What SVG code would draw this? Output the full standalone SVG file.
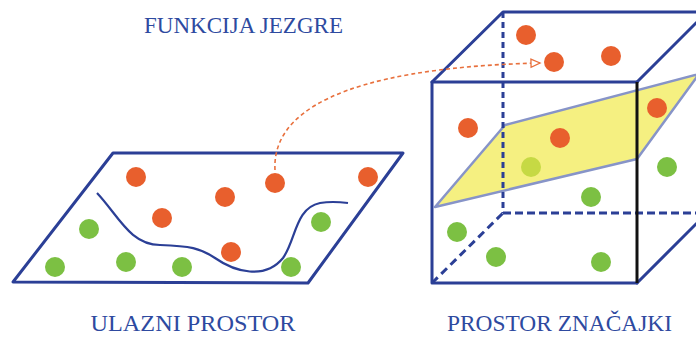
<svg xmlns="http://www.w3.org/2000/svg" width="696" height="337" viewBox="0 0 696 337">
<style>
.edge{fill:none;stroke:#2b3f96;stroke-width:3;stroke-linejoin:round;stroke-linecap:round}
.dash{fill:none;stroke:#2b3f96;stroke-width:3}
.o{fill:#e85f2d}
.g{fill:#7cc043}
.lbl{font-family:"Liberation Serif",serif;fill:#2e4aa0}
</style>
<defs>
<marker id="arr" markerWidth="12" markerHeight="12" refX="10" refY="5" orient="auto" markerUnits="userSpaceOnUse">
<path d="M1,1 L10,5 L1,9 z" fill="#fff" stroke="#e8703d" stroke-width="1.3"/>
</marker>
</defs>
<rect width="696" height="337" fill="#fff"/>

<g id="input-space">
<polygon class="edge" points="113,153 403,153 308,283 13,282"/>
<path d="M97,193 C118,215 130,245 160,245 C190,246 200,248 215,258 C235,272 265,280 283,258 C296,240 295,208 320,203 C332,201 340,202 348,203" fill="none" stroke="#2b3f96" stroke-width="2.2"/>
<circle class="o" cx="136" cy="177" r="10"/>
<circle class="o" cx="225" cy="197" r="10"/>
<circle class="o" cx="275" cy="183" r="10"/>
<circle class="o" cx="368" cy="177" r="10"/>
<circle class="o" cx="162" cy="218" r="10"/>
<circle class="o" cx="231" cy="252" r="10"/>
<circle class="g" cx="89" cy="229" r="10"/>
<circle class="g" cx="55" cy="267" r="10"/>
<circle class="g" cx="126" cy="262" r="10"/>
<circle class="g" cx="182" cy="267" r="10"/>
<circle class="g" cx="291" cy="267" r="10"/>
<circle class="g" cx="321" cy="222" r="10"/>
</g>

<g id="feature-space">
<polygon points="435,207 505,125 699,74 637,159" fill="#f5f081" stroke="#8794c8" stroke-width="2.5" stroke-linejoin="round"/>
<line class="dash" x1="503" y1="12" x2="503" y2="213" stroke-dasharray="6,4"/>
<line class="dash" x1="503" y1="213" x2="696" y2="213" stroke-dasharray="8,4"/>
<line class="dash" x1="432" y1="283" x2="503" y2="213" stroke-dasharray="8,5"/>
<circle class="o" cx="526" cy="35" r="10"/>
<circle class="o" cx="554" cy="62" r="10"/>
<circle class="o" cx="611" cy="56" r="10"/>
<circle class="o" cx="468" cy="128" r="10"/>
<circle class="o" cx="560" cy="138" r="10"/>
<circle class="o" cx="657" cy="108" r="10"/>
<circle cx="531" cy="167" r="10" fill="#c6d944"/>
<circle class="g" cx="667" cy="167" r="10"/>
<circle class="g" cx="591" cy="197" r="10"/>
<circle class="g" cx="457" cy="232" r="10"/>
<circle class="g" cx="496" cy="257" r="10"/>
<circle class="g" cx="601" cy="262" r="10"/>
<polyline class="edge" points="432,82 503,12 700,12"/>
<line class="edge" x1="637" y1="82" x2="708" y2="11"/>
<line class="edge" x1="637" y1="283" x2="708" y2="212"/>
<polyline class="edge" points="637,82 432,82 432,283 637,283"/>
<line x1="637" y1="82" x2="637" y2="283" stroke="#111" stroke-width="3"/>
</g>

<g id="connectors">
<path d="M275,170 C272,115 335,68 540,63" fill="none" stroke="#e8703d" stroke-width="1.6" stroke-dasharray="4,3" marker-end="url(#arr)"/>
</g>

<g id="labels">
<text class="lbl" x="243.5" y="33" font-size="23" text-anchor="middle" textLength="199" lengthAdjust="spacingAndGlyphs">FUNKCIJA JEZGRE</text>
<text class="lbl" x="193" y="331" font-size="24" text-anchor="middle" textLength="205" lengthAdjust="spacingAndGlyphs">ULAZNI PROSTOR</text>
<text class="lbl" x="559.5" y="331" font-size="24" text-anchor="middle" textLength="225" lengthAdjust="spacingAndGlyphs">PROSTOR ZNAČAJKI</text>
</g>
</svg>
